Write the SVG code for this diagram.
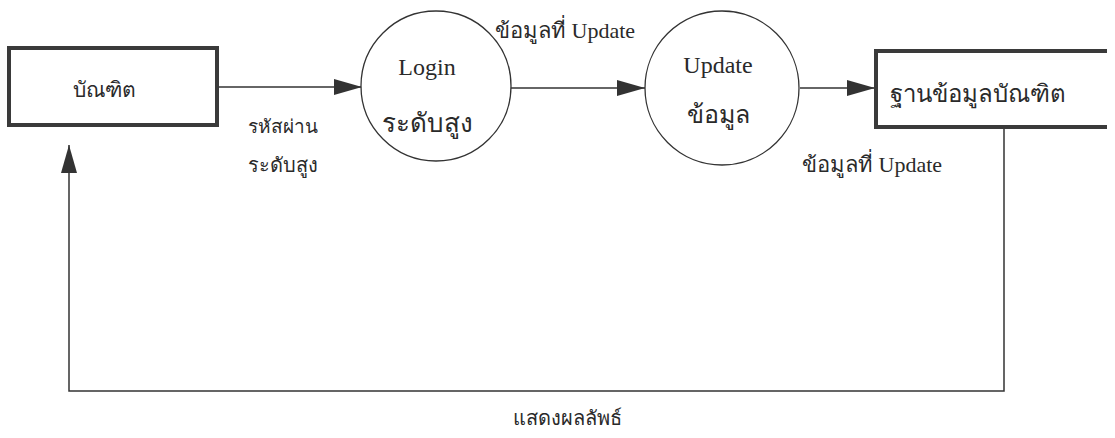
<svg xmlns="http://www.w3.org/2000/svg" width="1115" height="438" viewBox="0 0 1115 438">
<style>
.t{font-family:"Liberation Serif","Noto Sans",serif;fill:#2a2a2a;text-anchor:middle}
.l{font-family:"Liberation Serif","Noto Sans",serif;fill:#2a2a2a}
.c{fill:none;stroke:#333;stroke-width:1.5}
.e{fill:#fff;stroke:#3a3a3a;stroke-width:4}
.p{fill:#fff;stroke:#333;stroke-width:1.3}
</style>
<defs>
<marker id="ahb" markerWidth="28" markerHeight="16" refX="28" refY="8" orient="auto" markerUnits="userSpaceOnUse" viewBox="0 0 28 16">
<path d="M0,0 L28,8 L0,16 Z" fill="#333"/>
</marker>
</defs>
<rect width="1115" height="438" fill="#fff"/>
<g id="connectors">
<line class="c" x1="218" y1="87" x2="362" y2="87" marker-end="url(#ahb)"/>
<line class="c" x1="511" y1="88" x2="645" y2="88" marker-end="url(#ahb)"/>
<line class="c" x1="800" y1="88" x2="875" y2="88" marker-end="url(#ahb)"/>
<polyline class="c" points="1004,128 1004,391 69,391 69,145" marker-end="url(#ahb)"/>
<text class="l" x="248" y="133" font-size="19">รหัสผ่าน</text>
<text class="l" x="248" y="172" font-size="20">ระดับสูง</text>
<text class="l" x="495" y="38" font-size="22">ข้อมูลที่ Update</text>
<text class="l" x="802" y="172" font-size="22">ข้อมูลที่ Update</text>
<text class="t" x="567" y="425" font-size="20" style="font-family:'DejaVu Sans Condensed','Noto Sans',sans-serif">แสดงผลลัพธ์</text>
</g>
<g id="n-graduate">
<rect class="e" x="9" y="48" width="208" height="77"/>
<text class="t" x="104" y="97" font-size="21">บัณฑิต</text>
</g>
<g id="n-login">
<circle class="p" cx="436" cy="86" r="75"/>
<text class="t" x="427" y="75" font-size="24">Login</text>
<text class="t" x="427" y="132" font-size="26">ระดับสูง</text>
</g>
<g id="n-update">
<circle class="p" cx="722" cy="88" r="77"/>
<text class="t" x="718" y="73" font-size="24">Update</text>
<text class="t" x="718" y="123" font-size="25">ข้อมูล</text>
</g>
<g id="n-db">
<path d="M1107,51 L876,51 L876,127 L1107,127" fill="none" stroke="#3a3a3a" stroke-width="4"/>
<text class="l" x="890" y="102" font-size="24">ฐานข้อมูลบัณฑิต</text>
</g>
</svg>
